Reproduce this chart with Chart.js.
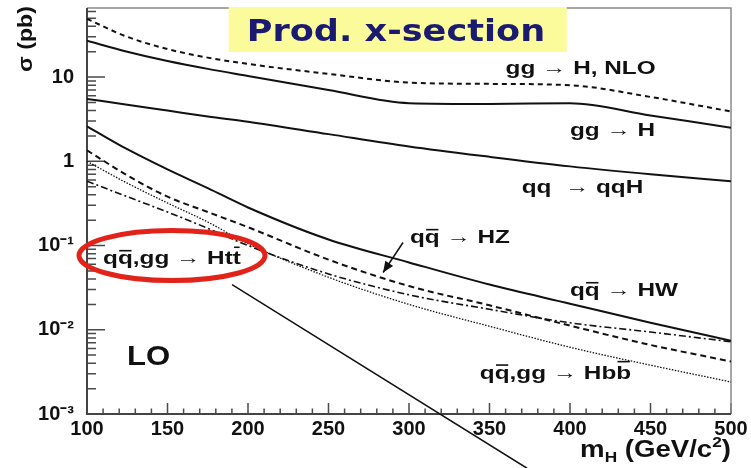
<!DOCTYPE html>
<html>
<head>
<meta charset="utf-8">
<script src="https://cdn.jsdelivr.net/npm/chart.js@4.4.1/dist/chart.umd.min.js"></script>
<style>
  html, body { margin: 0; padding: 0; background: #fff; }
</style>
</head>
<body>
<canvas id="xsec" width="751" height="468"></canvas>
<script>
// Higgs mass points (GeV/c^2) and cross sections (pb)
const massPoints = [100, 125, 150, 175, 200, 250, 300, 350, 400, 450, 500];
const ggHNlo  = [49, 30, 21.5, 17, 14.3, 10.9, 8.6, 8.3, 8.0, 5.8, 3.9];
const ggHLo   = [27, 20, 15.5, 12.5, 10.3, 7.0, 4.9, 4.8, 4.9, 3.5, 2.5];
const qqHVbf  = [5.5, 4.7, 4.0, 3.4, 2.95, 2.1, 1.5, 1.13, 0.87, 0.7, 0.58];
const hwXsec  = [2.6, 1.39, 0.8, 0.48, 0.283, 0.118, 0.063, 0.0344, 0.0204, 0.0121, 0.0074];
const hzXsec  = [1.35, 0.68, 0.38, 0.25, 0.165, 0.068, 0.033, 0.0195, 0.0112, 0.0066, 0.0042];
const httXsec = [0.58, 0.38, 0.25, 0.16, 0.1, 0.046, 0.026, 0.0175, 0.0121, 0.0094, 0.0072];
const hbbXsec = [1.0, 0.55, 0.32, 0.19, 0.105, 0.042, 0.02, 0.011, 0.0062, 0.0038, 0.0024];

const xTicks = [100, 150, 200, 250, 300, 350, 400, 450, 500];
const yTicks = [0.001, 0.01, 0.1, 1, 10];
const yTickLabels = ['10⁻³', '10⁻²', '10⁻¹', '1', '10'];

// text annotations, anchored in data coordinates
const curveLabels = [
  { parts: [['gg → H, NLO']], at: [360, 13.2] },
  { parts: [['gg → H']], at: [400, 2.4] },
  { parts: [['qq  → qqH']], at: [370, 0.5] },
  { parts: [['q'], ['q', true], [' → HZ']], at: [300.6, 0.128] },
  { parts: [['q'], ['q', true], [' → HW']], at: [400, 0.030] },
  { parts: [['q'], ['q', true], [',gg → Hb'], ['b', true]], at: [344, 0.00316] },
  { parts: [['q'], ['q', true], [',gg → Ht'], ['t', true]], at: [110, 0.072] }
];

const FONT = '"Liberation Sans", Arial, Helvetica, sans-serif';

const xMinor = [];
for (let m = 100; m <= 500; m += 10) xMinor.push(m);
const yMinor = [];
yTicks.forEach(d => { for (let k = 2; k <= 9; k++) if (k * d <= 66) yMinor.push(k * d); });

function series(vals) {
  return massPoints.map((m, i) => ({ x: m, y: vals[i] }));
}

function drawRich(ctx, parts, x, y, size, sx) {
  ctx.save();
  ctx.translate(x, y);
  ctx.scale(sx, 1);
  ctx.font = 'bold ' + size + 'px ' + FONT;
  ctx.textBaseline = 'alphabetic';
  ctx.fillStyle = '#111';
  ctx.strokeStyle = '#111';
  ctx.lineWidth = 1.6;
  const base = size * 0.36;
  let cx = 0;
  parts.forEach(([t, bar]) => {
    ctx.fillText(t, cx, base);
    const w = ctx.measureText(t).width;
    if (bar) {
      const h = t === 'q' ? size * 0.72 : size * 0.9;
      ctx.beginPath();
      ctx.moveTo(cx + 1, base - h);
      ctx.lineTo(cx + w - 1, base - h);
      ctx.stroke();
    }
    cx += w;
  });
  ctx.restore();
}

const overlay = {
  id: 'overlay',
  beforeDatasetsDraw(chart) {
    const { ctx, chartArea: a, scales: { x, y } } = chart;
    ctx.save();
    ctx.strokeStyle = '#4a4a4a';
    ctx.lineWidth = 1.5;
    ctx.beginPath();
    xMinor.forEach(v => {
      const p = x.getPixelForValue(v);
      const len = xTicks.includes(v) ? 11 : 5.5;
      ctx.moveTo(p, a.bottom);
      ctx.lineTo(p, a.bottom - len);
    });
    yTicks.forEach(v => {
      const p = y.getPixelForValue(v);
      ctx.moveTo(a.left, p);
      ctx.lineTo(a.left + 18, p);
    });
    yMinor.forEach(v => {
      const p = y.getPixelForValue(v);
      ctx.moveTo(a.left, p);
      ctx.lineTo(a.left + 9, p);
    });
    ctx.stroke();
    // frame
    ctx.strokeStyle = '#8a8a8a';
    ctx.lineWidth = 1.5;
    ctx.beginPath();
    ctx.moveTo(a.left, a.top);
    ctx.lineTo(a.right, a.top);
    ctx.lineTo(a.right, a.bottom);
    ctx.stroke();
    ctx.strokeStyle = '#444';
    ctx.lineWidth = 2;
    ctx.beginPath();
    ctx.moveTo(a.left, a.top);
    ctx.lineTo(a.left, a.bottom);
    ctx.lineTo(a.right, a.bottom);
    ctx.stroke();
    ctx.restore();
  },
  afterDatasetsDraw(chart) {
    const { ctx, chartArea: a, scales: { x, y } } = chart;
    ctx.save();

    // title banner
    const bx0 = x.getPixelForValue(188), bx1 = x.getPixelForValue(398);
    ctx.fillStyle = '#fbfb9c';
    ctx.fillRect(bx0, a.top - 1, bx1 - bx0, 45);
    ctx.save();
    ctx.translate(bx0 + 18, a.top + 33);
    ctx.scale(1.17, 1);
    ctx.font = 'bold 30px "DejaVu Sans", sans-serif';
    ctx.fillStyle = '#1a1a70';
    ctx.textBaseline = 'alphabetic';
    ctx.fillText('Prod. x-section', 0, 0);
    ctx.restore();

    curveLabels.forEach(l => {
      drawRich(ctx, l.parts, x.getPixelForValue(l.at[0]), y.getPixelForValue(l.at[1]), 19, 1.28);
    });
    drawRich(ctx, [['LO']], x.getPixelForValue(124.8), y.getPixelForValue(0.00504), 27, 1.15);

    // red ellipse around the ttH label
    ctx.strokeStyle = '#e2231a';
    ctx.lineWidth = 5;
    ctx.beginPath();
    ctx.ellipse(x.getPixelForValue(152.8), y.getPixelForValue(0.076), 93, 25, 0, 0, Math.PI * 2);
    ctx.stroke();

    // arrow from the HZ label to its curve
    const ax0 = x.getPixelForValue(296.3), ay0 = y.getPixelForValue(0.1086);
    const ax1 = x.getPixelForValue(283.9), ay1 = y.getPixelForValue(0.0478);
    ctx.strokeStyle = '#111';
    ctx.fillStyle = '#111';
    ctx.lineWidth = 1.5;
    ctx.beginPath();
    ctx.moveTo(ax0, ay0);
    ctx.lineTo(ax1, ay1);
    ctx.stroke();
    const ang = Math.atan2(ay1 - ay0, ax1 - ax0);
    ctx.beginPath();
    ctx.moveTo(ax1, ay1);
    ctx.lineTo(ax1 - 12 * Math.cos(ang - 0.4), ay1 - 12 * Math.sin(ang - 0.4));
    ctx.lineTo(ax1 - 12 * Math.cos(ang + 0.4), ay1 - 12 * Math.sin(ang + 0.4));
    ctx.closePath();
    ctx.fill();

    // long pointer line leaving the ellipse
    ctx.beginPath();
    ctx.moveTo(x.getPixelForValue(190.1), y.getPixelForValue(0.0344));
    ctx.lineTo(x.getPixelForValue(373.3), y.getPixelForValue(0.000227));
    ctx.stroke();

    // axis titles
    ctx.fillStyle = '#111';
    ctx.textBaseline = 'alphabetic';
    const xt = [['m', 24, 0], ['H', 15, 5], [' (GeV/c', 24, 0], ['2', 15, -10], [')', 24, 0]];
    ctx.save();
    ctx.translate(a.right, a.bottom + 43);
    ctx.scale(1.15, 1);
    let tot = 0;
    xt.forEach(([t, s]) => { ctx.font = 'bold ' + s + 'px ' + FONT; tot += ctx.measureText(t).width; });
    let cx = -tot;
    xt.forEach(([t, s, dy]) => {
      ctx.font = 'bold ' + s + 'px ' + FONT;
      ctx.fillText(t, cx, dy);
      cx += ctx.measureText(t).width;
    });
    ctx.restore();

    ctx.save();
    ctx.translate(32, a.top + 64);
    ctx.rotate(-Math.PI / 2);
    ctx.scale(1.1, 1);
    ctx.font = 'bold 21px ' + FONT;
    ctx.fillText('σ (pb)', 0, 0);
    ctx.restore();

    ctx.restore();
  }
};

const lineStyle = (vals, dash, width) => ({
  data: series(vals),
  borderColor: '#111',
  borderWidth: width,
  borderDash: dash,
  pointRadius: 0,
  fill: false,
  cubicInterpolationMode: 'monotone'
});

new Chart(document.getElementById('xsec'), {
  type: 'line',
  data: {
    datasets: [
      lineStyle(ggHNlo, [5, 4], 2),
      lineStyle(ggHLo, [], 2),
      lineStyle(qqHVbf, [], 2),
      lineStyle(hwXsec, [], 2),
      lineStyle(hzXsec, [6, 4], 2),
      lineStyle(httXsec, [7, 3, 2, 3], 1.6),
      lineStyle(hbbXsec, [1.5, 1.5], 1.3)
    ]
  },
  options: {
    responsive: false,
    animation: false,
    layout: { padding: { top: 8, right: 20, left: 0, bottom: 0 } },
    plugins: { legend: { display: false }, tooltip: { enabled: false } },
    scales: {
      x: {
        type: 'linear',
        min: 100,
        max: 500,
        afterBuildTicks: axis => { axis.ticks = xTicks.map(v => ({ value: v })); },
        afterFit: axis => { axis.height = 54; axis.paddingLeft = 0; axis.paddingRight = 0; },
        grid: { display: false, drawTicks: false },
        border: { display: false },
        ticks: {
          padding: 3,
          color: '#111',
          font: { family: FONT, size: 20, weight: 'bold' },
          maxRotation: 0,
          autoSkip: false
        }
      },
      y: {
        type: 'logarithmic',
        min: 0.001,
        max: 66,
        afterBuildTicks: axis => { axis.ticks = yTicks.map(v => ({ value: v })); },
        afterFit: axis => { axis.width = 87; axis.paddingTop = 0; axis.paddingBottom = 0; },
        grid: { display: false, drawTicks: false },
        border: { display: false },
        ticks: {
          padding: 13,
          color: '#111',
          font: { family: FONT, size: 20, weight: 'bold' },
          autoSkip: false,
          callback: (v, i) => yTickLabels[i]
        }
      }
    }
  },
  plugins: [overlay]
});
</script>
</body>
</html>
